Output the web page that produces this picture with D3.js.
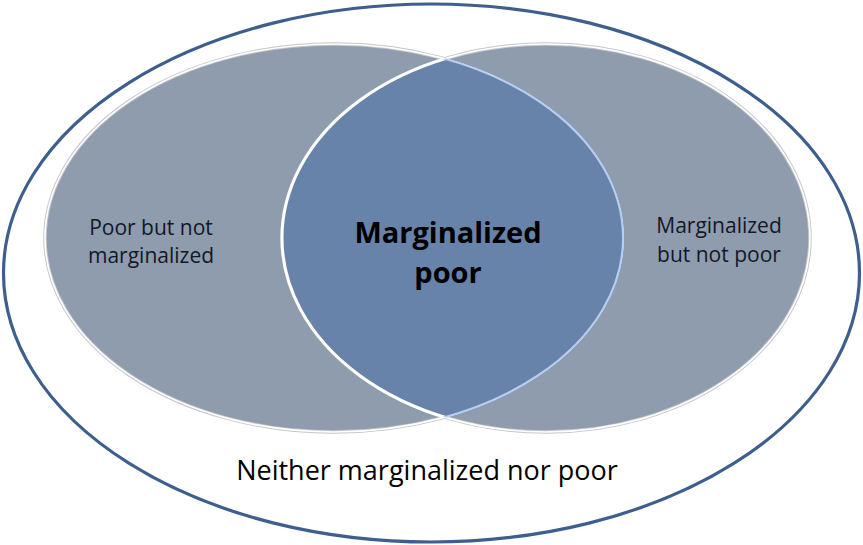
<!DOCTYPE html>
<html lang="en">
<head>
  <meta charset="UTF-8">
  <script src="https://d3js.org/d3.v7.min.js"></script>
  <title>Marginalized and poor</title>
  <style>
    body { margin: 0; background: #fff; }
    text { font-family: "Open Sans", "Noto Sans", sans-serif; }
  </style>
</head>
<body>
  <div id="wrapper"></div>
  <script>
    /* Data */
    const setNames = ["Poor", "Marginalized"]
    const leftLabel = ["Poor but not", "marginalized"]
    const middleLabel = ["Marginalized", "poor"]
    const rightLabel = ["Marginalized", "but not poor"]
    const outsideLabel = "Neither marginalized nor poor"

    const dimensions = { width: 863, height: 545 }

    // layout in pixel space
    const outer = { cx: 431.5, cy: 273, rx: 428, ry: 269 }
    const sets = [
      { name: setNames[0], cx: 334, cy: 238, rx: 289, ry: 194 },
      { name: setNames[1], cx: 546, cy: 238, rx: 264, ry: 194 }
    ]

    const svg = d3.select("#wrapper")
        .append("svg")
        .attr("width", dimensions.width)
        .attr("height", dimensions.height)

    const defs = svg.append("defs")
    sets.forEach((s, i) => {
      defs.append("clipPath")
          .attr("id", "clip" + i)
        .append("ellipse")
          .attr("cx", s.cx).attr("cy", s.cy)
          .attr("rx", s.rx).attr("ry", s.ry)
    })

    // universe
    svg.append("ellipse")
        .attr("cx", outer.cx).attr("cy", outer.cy)
        .attr("rx", outer.rx).attr("ry", outer.ry)
        .attr("fill", "#fff")
        .attr("stroke", "#3e5e8e")
        .attr("stroke-width", 3.2)

    // the two sets, gray-edged white outline
    svg.selectAll("ellipse.set")
        .data(sets)
        .join("ellipse")
        .attr("class", "set")
        .attr("cx", d => d.cx).attr("cy", d => d.cy)
        .attr("rx", d => d.rx).attr("ry", d => d.ry)
        .attr("fill", "#8f9cad")
        .attr("stroke", "#c4c6c9")
        .attr("stroke-width", 3.5)

    svg.selectAll("ellipse.rim")
        .data(sets)
        .join("ellipse")
        .attr("class", "rim")
        .attr("cx", d => d.cx).attr("cy", d => d.cy)
        .attr("rx", d => d.rx).attr("ry", d => d.ry)
        .attr("fill", "none")
        .attr("stroke", "#fff")
        .attr("stroke-width", 1.6)

    // intersection
    const lens = svg.append("g").attr("clip-path", "url(#clip0)")
    lens.append("ellipse")
        .attr("cx", sets[1].cx).attr("cy", sets[1].cy)
        .attr("rx", sets[1].rx).attr("ry", sets[1].ry)
        .attr("fill", "#6883a9")
        .attr("stroke", "#fff")
        .attr("stroke-width", 3)

    svg.append("g").attr("clip-path", "url(#clip1)")
      .append("ellipse")
        .attr("cx", sets[0].cx).attr("cy", sets[0].cy)
        .attr("rx", sets[0].rx).attr("ry", sets[0].ry)
        .attr("fill", "none")
        .attr("stroke", "#b4cdf2")
        .attr("stroke-width", 2)

    /* Labels */
    const addLabel = (lines, x, y0, lineH, size, weight, color) => {
      lines.forEach((l, i) => {
        svg.append("text")
            .attr("text-anchor", "middle")
            .style("font-size", size + "px")
            .style("font-weight", weight)
            .attr("fill", color)
            .attr("x", x)
            .attr("y", y0 + i * lineH)
            .text(l)
      })
    }

    addLabel(leftLabel, 151, 235, 28, 21, 400, "#111827")
    addLabel(middleLabel, 448, 243, 40, 29, 700, "#000")
    addLabel(rightLabel, 719, 233, 29, 21, 400, "#111827")
    addLabel([outsideLabel], 427, 480, 0, 27, 400, "#000")
  </script>
</body>
</html>
